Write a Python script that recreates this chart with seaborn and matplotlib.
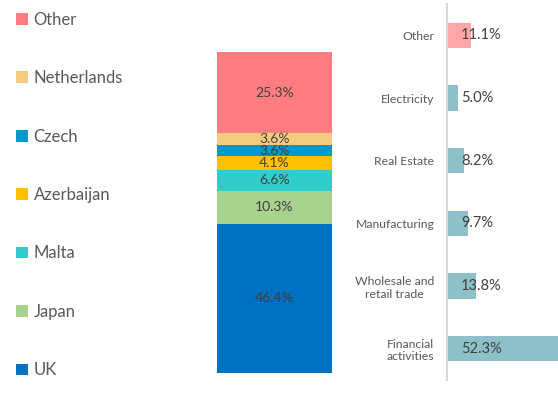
import matplotlib
matplotlib.use("Agg")
import matplotlib.pyplot as plt
import seaborn as sns
import pandas as pd
import numpy as np
from matplotlib.patches import Patch

# ---- data ----
countries = ["UK", "Japan", "Malta", "Azerbaijan", "Czech", "Netherlands", "Other"]
country_shares = [46.4, 10.3, 6.6, 4.1, 3.6, 3.6, 25.3]
country_colors = ["#0070C0", "#A9D18E", "#33CCCC", "#FFC000", "#0099CC", "#F4CC7F", "#FF7C80"]

sectors = ["Other", "Electricity", "Real Estate", "Manufacturing",
           "Wholesale and\nretail trade", "Financial\nactivities"]
sector_shares = [11.1, 5.0, 8.2, 9.7, 13.8, 52.3]
sector_colors = ["#FFA6A6", "#8DC0C8", "#8DC0C8", "#8DC0C8", "#8DC0C8", "#8DC0C8"]

sns.set_theme(style="white")
plt.rcParams["font.family"] = ["Lato", "DejaVu Sans"]

fig = plt.figure(figsize=(5.58, 4.03), dpi=100)

# ---- stacked bar ----
ax1 = fig.add_axes([0.389, 0.0744, 0.206, 0.7965])
cum = np.cumsum(country_shares)
bottoms = cum - np.array(country_shares)
# draw cumulative totals from largest to smallest so each layer shows its segment
for i in range(len(countries) - 1, -1, -1):
    df = pd.DataFrame({"g": ["all"], "v": [cum[i]]})
    sns.barplot(data=df, x="g", y="v", color=country_colors[i], width=1.0,
                saturation=1, ax=ax1, linewidth=0)
for i, (c, v) in enumerate(zip(countries, country_shares)):
    ax1.text(0, bottoms[i] + v / 2, f"{v:.1f}%", ha="center", va="center",
             fontsize=10, color="#404040")
ax1.set_xlim(-0.5, 0.5)
ax1.set_ylim(0, cum[-1])
ax1.axis("off")

# ---- legend ----
handles = [Patch(facecolor=country_colors[i], edgecolor="none") for i in range(len(countries) - 1, -1, -1)]
labels = [countries[i] for i in range(len(countries) - 1, -1, -1)]
fig.legend(handles, labels, loc="upper left", bbox_to_anchor=(0.008, 1.0),
           frameon=False, fontsize=12, labelcolor="#595959",
           handlelength=0.7, handleheight=0.7, handletextpad=0.35,
           labelspacing=2.545, borderaxespad=0.3)

# ---- sector bars ----
ax2 = fig.add_axes([0.801, 0.057, 0.199, 0.933])
sdf = pd.DataFrame({"sector": sectors, "share": sector_shares})
sns.barplot(data=sdf, y="sector", x="share", hue="sector", palette=sector_colors,
            legend=False, orient="h", width=0.4, saturation=1, ax=ax2, linewidth=0)
for i, v in enumerate(sector_shares):
    ax2.text(6.6, i, f"{v:.1f}%", ha="left", va="center", fontsize=10.5, color="#404040")
ax2.set_xlim(0, 52.3)
ax2.set_ylim(5.5, -0.5)
ax2.set_xlabel("")
ax2.set_ylabel("")
ax2.set_xticks([])
for s in ["top", "right", "bottom"]:
    ax2.spines[s].set_visible(False)
ax2.spines["left"].set_color("#D9D9D9")
ax2.spines["left"].set_linewidth(1.5)
ax2.tick_params(axis="y", length=0, pad=9, labelsize=8.8, labelcolor="#595959")
for t in ax2.get_yticklabels():
    t.set_horizontalalignment("right")
    t.set_multialignment("center")

fig.savefig("out.png", dpi=100)
